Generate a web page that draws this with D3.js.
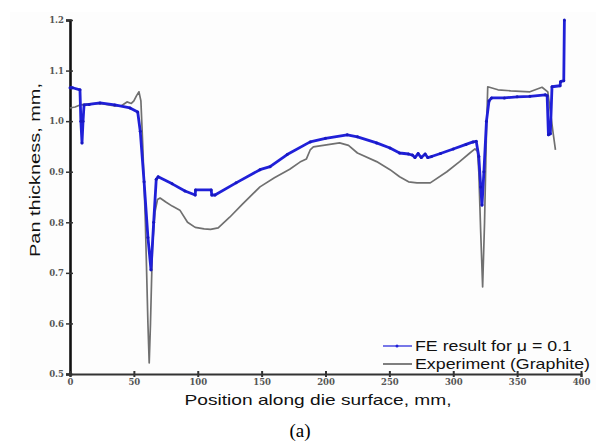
<!DOCTYPE html>
<html><head><meta charset="utf-8">
<script src="https://cdn.jsdelivr.net/npm/d3@7"></script>
<style>body{margin:0;background:#fff}svg{display:block}</style>
</head><body>
<svg id="c" width="596" height="441"></svg>
<script>
// ---- data ----
const feX = [0,2,7.8,8.5,9.4,10.2,11,15,23.5,35,47,53,55,58,61,63.4,65.5,67.5,69,80,90,98,98.3,110.5,111,113.5,130,148.7,156.6,170,188,200,217,225,240,250.5,258,265,268,270,272.5,275,278,280,283,290,300,310,315.5,318,320,321.5,322.5,324,326,328,330,340,350,360,372,373.5,374.5,376,377.3,383.6,384,386.5,387];
const feY = [1.066,1.066,1.062,1.0,0.957,1.0,1.032,1.033,1.036,1.032,1.026,1.018,0.98,0.88,0.77,0.706,0.8,0.885,0.89,0.876,0.862,0.854,0.864,0.864,0.854,0.854,0.878,0.904,0.91,0.934,0.959,0.966,0.973,0.969,0.957,0.947,0.937,0.935,0.933,0.928,0.936,0.928,0.935,0.928,0.93,0.936,0.945,0.954,0.959,0.96,0.93,0.87,0.834,0.9,1.0,1.04,1.046,1.046,1.048,1.049,1.052,1.05,0.973,0.975,1.068,1.07,1.078,1.08,1.2];
const expX = [0,4,7.8,15,23.5,35,40,44.6,48,50,52,54,55.5,57,59,61,62,63,64.5,66.5,68.5,70.5,75,80,86,92,98,105,110,116,125,135,148.7,160,172,180,185,188,190.5,211,218,225,240,250.5,258,265,271.6,282,295,305,313,317,319,320,321.5,323,324.5,326,327,335,345,360,369.5,374,376,378,380];
const expY = [1.026,1.028,1.032,1.034,1.035,1.03,1.03,1.038,1.035,1.04,1.05,1.058,1.04,0.95,0.8,0.6,0.522,0.6,0.75,0.82,0.845,0.848,0.84,0.832,0.824,0.8,0.79,0.787,0.786,0.789,0.81,0.836,0.87,0.888,0.905,0.919,0.925,0.943,0.949,0.957,0.952,0.937,0.92,0.904,0.89,0.88,0.878,0.878,0.9,0.92,0.937,0.945,0.94,0.9,0.78,0.672,0.8,0.98,1.068,1.062,1.06,1.058,1.067,1.058,1.02,0.98,0.943];
const xTicks = [0,50,100,150,200,250,300,350,400];
const yTicks = [0.5,0.6,0.7,0.8,0.9,1.0,1.1,1.2];
const seriesNames = ["FE result for \u03bc = 0.1","Experiment (Graphite)"];

const svg = d3.select("#c");
const x = d3.scaleLinear().domain([0,400]).range([70,581]);
const y = d3.scaleLinear().domain([0.5,1.2]).range([374,20]);

// faint panel
svg.append("rect").attr("x",10).attr("y",12).attr("width",586).attr("height",378).attr("fill","#fdfdfd");

// axes
const ya = svg.append("g").attr("transform","translate(70,0)")
  .call(d3.axisLeft(y).tickValues(yTicks).tickSize(4).tickFormat(d3.format(".1f")));
ya.select(".domain").attr("stroke","#111").attr("stroke-width",2.6);
ya.selectAll(".tick line").attr("stroke","#333").attr("stroke-width",1.5).attr("x1",3);
ya.selectAll(".tick text").attr("x",-6).attr("font-family","DejaVu Serif").attr("font-weight","bold")
  .attr("font-size",8.5).attr("fill","#555");

const xa = svg.append("g").attr("transform","translate(0,374)")
  .call(d3.axisBottom(x).tickValues(xTicks).tickSize(3).tickFormat(d3.format("d")));
xa.select(".domain").attr("stroke","#333").attr("stroke-width",2);
xa.selectAll(".tick line").attr("stroke","#333").attr("stroke-width",2).attr("y1",-3);
xa.selectAll(".tick text").attr("y",5).attr("font-family","DejaVu Serif").attr("font-weight","bold")
  .attr("font-size",8.5).attr("fill","#555");

// lines
const line = d3.line().x(d=>x(d[0])).y(d=>y(d[1]));
const expData = expX.map((v,i)=>[v,expY[i]]);
const feData = feX.map((v,i)=>[v,feY[i]]);
svg.append("path").datum(expData).attr("d",line).attr("fill","none")
  .attr("stroke","#707070").attr("stroke-width",1.7).attr("stroke-linejoin","round");
svg.append("path").datum(feData).attr("d",line).attr("fill","none")
  .attr("stroke","#2020d8").attr("stroke-width",2.8).attr("stroke-linejoin","round");
svg.append("g").selectAll("circle").data(feData).join("circle")
  .attr("cx",d=>x(d[0])).attr("cy",d=>y(d[1])).attr("r",1.5).attr("fill","#1818c0");

// titles
const sans = "Liberation Sans, Arial, sans-serif";
svg.append("text").attr("transform","translate(40,170) rotate(-90)").attr("text-anchor","middle")
  .attr("font-family",sans).attr("font-size",15).attr("fill","#111")
  .attr("textLength",174).attr("lengthAdjust","spacingAndGlyphs").text("Pan thickness, mm,");
svg.append("text").attr("x",318).attr("y",405).attr("text-anchor","middle")
  .attr("font-family",sans).attr("font-size",15).attr("fill","#111")
  .attr("textLength",267).attr("lengthAdjust","spacingAndGlyphs").text("Position along die surface, mm,");
svg.append("text").attr("x",300).attr("y",437).attr("text-anchor","middle")
  .attr("font-family","Liberation Serif, Times New Roman, serif").attr("font-size",19).attr("fill","#000").text("(a)");

// legend
const lg = svg.append("g");
const rows = [{c:"#4a4ae0",w:1.5,dot:true,y:346,len:157},{c:"#555",w:1.5,dot:false,y:364,len:175}];
rows.forEach((r,i)=>{
  lg.append("line").attr("x1",383).attr("x2",412).attr("y1",r.y).attr("y2",r.y)
    .attr("stroke",r.c).attr("stroke-width",r.w);
  if(r.dot) lg.append("circle").attr("cx",397).attr("cy",r.y).attr("r",1.5).attr("fill","#2020d8");
  lg.append("text").attr("x",415).attr("y",r.y+5).attr("font-family",sans).attr("font-size",15)
    .attr("fill","#111").attr("textLength",r.len).attr("lengthAdjust","spacingAndGlyphs").text(seriesNames[i]);
});
</script>
</body></html>
